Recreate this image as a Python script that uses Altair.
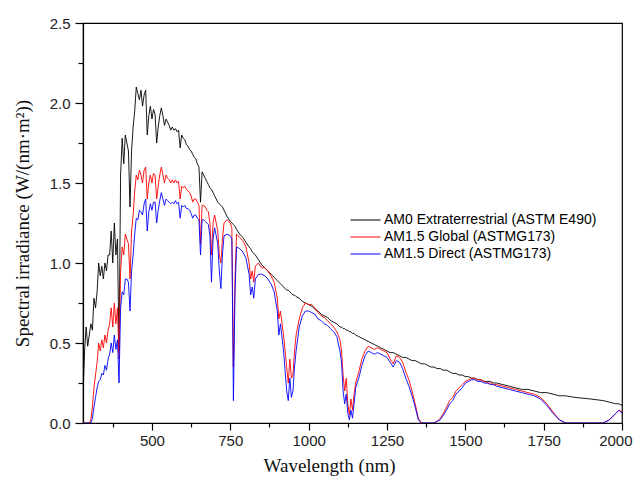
import altair as alt
import pandas as pd

# ---- data ----
wavelength = [
    280, 285, 290, 295, 300, 305, 310, 315, 320, 325, 330, 335, 340, 345, 350, 355,
    360, 365, 370, 375, 380, 385, 390, 395, 400, 405, 410, 415, 420, 425, 430, 435,
    440, 445, 450, 455, 460, 465, 470, 475, 480, 485, 490, 495, 500, 505, 510, 515,
    520, 525, 530, 535, 540, 545, 550, 555, 560, 565, 570, 575, 580, 585, 590, 595,
    600, 605, 610, 615, 620, 625, 630, 635, 640, 645, 650, 655, 660, 665, 670, 675,
    680, 685, 690, 695, 700,
    710, 715, 720, 725, 730, 740, 750, 755, 760, 765, 770, 780, 790, 800, 810, 815,
    820, 825, 830, 840, 850, 860, 870, 880, 890, 900, 905, 910, 920, 930, 935, 940,
    945, 950, 955, 960, 970, 980, 990, 1000,
    1010, 1020, 1030, 1040, 1050, 1060, 1070, 1080, 1090, 1100,
    1105, 1110, 1115, 1120, 1125, 1130, 1135, 1140, 1145, 1150,
    1160, 1170, 1180, 1190, 1200, 1210, 1220, 1230, 1240, 1250,
    1260, 1270, 1280, 1290, 1300, 1310, 1320, 1330, 1340, 1350,
    1360, 1370, 1380, 1390, 1400, 1410, 1420, 1430, 1440, 1450,
    1460, 1470, 1480, 1490, 1500, 1510, 1520, 1530, 1540, 1550,
    1560, 1570, 1580, 1590, 1600,
    1620, 1640, 1660, 1680, 1700, 1720, 1740, 1760, 1780, 1800, 1820,
    1850, 1900, 1940, 1960, 1980, 1990, 2000,
]

am0 = [
    0.16, 0.45, 0.60, 0.48, 0.55, 0.62, 0.58, 0.78, 0.72, 0.82, 1.00, 0.92, 0.98, 0.90, 1.00, 0.95,
    1.05, 1.05, 1.20, 1.00, 1.25, 1.05, 1.15, 0.45, 1.55, 1.78, 1.62, 1.80, 1.75, 1.70, 1.35, 1.70,
    1.85, 1.95, 2.10, 2.06, 2.02, 2.08, 1.98, 2.05, 2.08, 1.80, 1.92, 1.98, 1.90, 1.96, 1.93, 1.75,
    1.85, 1.92, 1.97, 1.92, 1.86, 1.90, 1.88, 1.86, 1.83, 1.85, 1.83, 1.84, 1.82, 1.83, 1.72, 1.80,
    1.78, 1.77, 1.74, 1.73, 1.71, 1.70, 1.68, 1.66, 1.65, 1.62, 1.60, 1.38, 1.57, 1.55, 1.53, 1.51,
    1.49, 1.47, 1.46, 1.44, 1.42,
    1.38, 1.37, 1.36, 1.35, 1.33, 1.29, 1.26, 1.25, 1.24, 1.23, 1.21, 1.18, 1.16, 1.13, 1.10, 1.09,
    1.07, 1.06, 1.05, 1.02, 0.99, 0.97, 0.95, 0.93, 0.91, 0.89, 0.88, 0.87, 0.85, 0.83, 0.83, 0.82,
    0.81, 0.80, 0.80, 0.79, 0.78, 0.76, 0.75, 0.74,
    0.73, 0.71, 0.70, 0.68, 0.67, 0.66, 0.64, 0.63, 0.62, 0.60,
    0.60, 0.59, 0.59, 0.58, 0.58, 0.57, 0.57, 0.56, 0.56, 0.55,
    0.54, 0.53, 0.52, 0.51, 0.50, 0.49, 0.48, 0.47, 0.46, 0.45,
    0.44, 0.44, 0.43, 0.42, 0.41, 0.41, 0.40, 0.39, 0.39, 0.38,
    0.37, 0.37, 0.36, 0.35, 0.35, 0.34, 0.34, 0.33, 0.33, 0.32,
    0.31, 0.31, 0.30, 0.30, 0.29, 0.29, 0.28, 0.28, 0.27, 0.27,
    0.26, 0.26, 0.26, 0.25, 0.25,
    0.24, 0.23, 0.22, 0.21, 0.21, 0.20, 0.19, 0.19, 0.18, 0.17, 0.17,
    0.16, 0.15, 0.14, 0.13, 0.12, 0.12, 0.11,
]

am15_global = [
    0.00, 0.00, 0.00, 0.00, 0.00, 0.02, 0.10, 0.22, 0.30, 0.38, 0.50, 0.45, 0.52, 0.47, 0.55, 0.50,
    0.58, 0.62, 0.72, 0.60, 0.75, 0.62, 0.72, 0.40, 0.95, 1.10, 1.05, 1.18, 1.15, 1.12, 0.90, 1.20,
    1.30, 1.45, 1.55, 1.52, 1.58, 1.55, 1.50, 1.58, 1.60, 1.40, 1.50, 1.55, 1.50, 1.56, 1.55, 1.40,
    1.48, 1.55, 1.60, 1.55, 1.50, 1.55, 1.53, 1.52, 1.50, 1.52, 1.50, 1.52, 1.50, 1.51, 1.40, 1.48,
    1.47, 1.48, 1.46, 1.45, 1.44, 1.42, 1.38, 1.40, 1.40, 1.38, 1.36, 1.12, 1.36, 1.36, 1.35, 1.33,
    1.32, 1.25, 1.05, 1.25, 1.30,
    1.20, 1.05, 1.00, 1.15, 1.25, 1.27, 1.25, 1.22, 0.35, 0.90, 1.18, 1.16, 1.14, 1.10, 1.00, 0.90,
    0.95, 0.88, 0.98, 1.00, 0.97, 0.97, 0.95, 0.92, 0.88, 0.78, 0.65, 0.70, 0.55, 0.35, 0.25, 0.40,
    0.28, 0.30, 0.45, 0.55, 0.65, 0.72, 0.75, 0.74,
    0.74, 0.72, 0.69, 0.67, 0.66, 0.64, 0.62, 0.60, 0.57, 0.52,
    0.45, 0.30, 0.20, 0.28, 0.12, 0.05, 0.15, 0.08, 0.18, 0.25,
    0.32, 0.40, 0.45, 0.48, 0.47, 0.46, 0.47, 0.46, 0.45, 0.44,
    0.40, 0.37, 0.42, 0.41, 0.38, 0.32, 0.27, 0.20, 0.12, 0.03,
    0.00, 0.00, 0.00, 0.00, 0.00, 0.01, 0.03, 0.06, 0.10, 0.14,
    0.16, 0.20, 0.22, 0.24, 0.26, 0.27, 0.28, 0.28, 0.27, 0.27,
    0.26, 0.25, 0.25, 0.24, 0.24,
    0.23, 0.22, 0.21, 0.20, 0.19, 0.18, 0.16, 0.12, 0.07, 0.02, 0.00,
    0.00, 0.00, 0.00, 0.02, 0.06, 0.08, 0.07,
]

am15_direct = [
    0.00, 0.00, 0.00, 0.00, 0.00, 0.00, 0.03, 0.10, 0.16, 0.22, 0.26, 0.27, 0.31, 0.30, 0.36, 0.33,
    0.40, 0.43, 0.50, 0.44, 0.55, 0.46, 0.52, 0.25, 0.72, 0.82, 0.80, 0.90, 0.90, 0.88, 0.70, 0.95,
    1.05, 1.18, 1.28, 1.27, 1.33, 1.32, 1.30, 1.37, 1.40, 1.20, 1.32, 1.37, 1.33, 1.38, 1.38, 1.25,
    1.33, 1.39, 1.44, 1.40, 1.36, 1.40, 1.39, 1.38, 1.37, 1.38, 1.37, 1.39, 1.37, 1.38, 1.28, 1.36,
    1.35, 1.36, 1.34, 1.34, 1.33, 1.31, 1.28, 1.30, 1.30, 1.28, 1.27, 1.05, 1.27, 1.27, 1.26, 1.25,
    1.24, 1.17, 0.88, 1.15, 1.22,
    1.12, 0.95, 0.84, 1.05, 1.17, 1.18, 1.17, 1.15, 0.14, 0.80, 1.10, 1.09, 1.07, 1.03, 0.93, 0.80,
    0.85, 0.78, 0.90, 0.93, 0.93, 0.92, 0.90, 0.87, 0.82, 0.70, 0.55, 0.62, 0.45, 0.20, 0.14, 0.28,
    0.16, 0.20, 0.35, 0.45, 0.60, 0.67, 0.70, 0.70,
    0.69, 0.68, 0.65, 0.64, 0.62, 0.61, 0.59, 0.57, 0.54, 0.45,
    0.38, 0.20, 0.12, 0.18, 0.06, 0.02, 0.08, 0.03, 0.12, 0.22,
    0.28, 0.36, 0.42, 0.45, 0.44, 0.43, 0.44, 0.43, 0.42, 0.41,
    0.38, 0.35, 0.39, 0.38, 0.34, 0.28, 0.23, 0.17, 0.10, 0.02,
    0.00, 0.00, 0.00, 0.00, 0.00, 0.01, 0.02, 0.05, 0.08, 0.12,
    0.14, 0.18, 0.20, 0.22, 0.25, 0.26, 0.27, 0.27, 0.26, 0.26,
    0.25, 0.25, 0.24, 0.24, 0.23,
    0.22, 0.21, 0.20, 0.19, 0.18, 0.17, 0.15, 0.11, 0.06, 0.02, 0.00,
    0.00, 0.00, 0.00, 0.02, 0.06, 0.08, 0.06,
]

series_names = [
    "AM0 Extraterrestrial (ASTM E490)",
    "AM1.5 Global (ASTMG173)",
    "AM1.5 Direct (ASTMG173)",
]
series_colors = ["#000000", "#ff0000", "#0000ff"]

x_tick_values = [375, 500, 625, 750, 875, 1000, 1125, 1250, 1375, 1500, 1625, 1750, 1875, 2000]
y_tick_values = [0.0, 0.25, 0.5, 0.75, 1.0, 1.25, 1.5, 1.75, 2.0, 2.25, 2.5]

rows = []
for name, vals in zip(series_names, [am0, am15_global, am15_direct]):
    for w, v in zip(wavelength, vals):
        rows.append({"wavelength": w, "irradiance": v, "series": name})
df = pd.DataFrame(rows)

x_axis = alt.Axis(
    values=x_tick_values,
    format="d",
    labelExpr="datum.value % 250 === 0 ? datum.label : ''",
    tickSize={"condition": {"test": "datum.value % 250 === 0", "value": 7}, "value": 4},
    labelPadding=3,
    labelOverlap=False,
    labelFlush=True,
    labelFlushOffset=10,
    grid=False,
    labelFont="Liberation Sans",
    labelFontSize=15,
    labelColor="#222222",
    titleFont="Liberation Serif",
    titleFontSize=19,
    titleFontWeight="normal",
    titleColor="#111111",
    titlePadding=8,
    titleX=246,
    titleAlign="center",
    domainColor="#000000",
    domainWidth=1.2,
    tickColor="#000000",
    tickWidth=1.2,
)

y_axis = alt.Axis(
    values=y_tick_values,
    labelExpr="datum.value % 0.5 === 0 ? format(datum.value, '.1f') : ''",
    tickSize={"condition": {"test": "datum.value % 0.5 === 0", "value": 8}, "value": 5},
    labelPadding=5,
    labelOverlap=False,
    grid=False,
    labelFont="Liberation Sans",
    labelFontSize=15,
    labelColor="#222222",
    titleFont="Liberation Serif",
    titleFontSize=19,
    titleFontWeight="normal",
    titleColor="#111111",
    titlePadding=17,
    domainColor="#000000",
    domainWidth=1.2,
    tickColor="#000000",
    tickWidth=1.2,
)

legend = alt.Legend(
    title=None,
    orient="none",
    legendX=267,
    legendY=190,
    symbolType="stroke",
    symbolSize=900,
    symbolStrokeWidth=1,
    clipHeight=14,
    labelFont="Liberation Sans",
    labelFontSize=14,
    labelColor="#000000",
    labelLimit=0,
    labelOffset=3,
    rowPadding=3,
    padding=0,
)

base = alt.Chart(df).encode(
    x=alt.X("wavelength:Q", title="Wavelength (nm)",
            scale=alt.Scale(domain=[280, 2000], nice=False, zero=False), axis=x_axis),
    y=alt.Y("irradiance:Q", title="Spectral irradiance (W/(nm·m²))",
            scale=alt.Scale(domain=[0, 2.5], nice=False), axis=y_axis),
    color=alt.Color("series:N", scale=alt.Scale(domain=series_names, range=series_colors),
                    legend=legend),
)

layers = [
    base.transform_filter(alt.datum.series == name).mark_line(strokeWidth=0.9, clip=True)
    for name in series_names
]

chart = alt.layer(*layers).properties(
    width=539,
    height=400,
    autosize=alt.AutoSizeParams(type="none"),
    padding={"left": 75, "top": 15, "right": 11, "bottom": 56},
    background="white",
).configure_view(stroke="#000000", strokeWidth=1.2)

chart.save("out.html", embed_options={"renderer": "svg", "actions": False})
